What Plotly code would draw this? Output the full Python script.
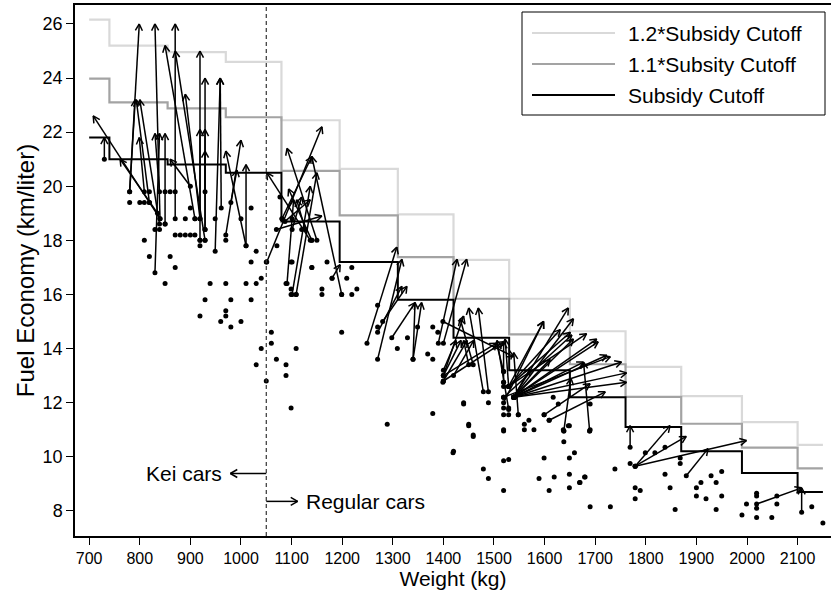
import math
import plotly.graph_objects as go

# ---------------- data ----------------
weight_breaks = [700, 740, 855, 970, 1080, 1195, 1310, 1420, 1530, 1650, 1760, 1870, 1990, 2100, 2150]
cutoff = [21.8, 21.0, 20.8, 20.5, 18.7, 17.2, 15.8, 14.4, 13.2, 12.2, 11.1, 10.2, 9.4, 8.7]
cutoff_11 = [23.98, 23.1, 22.88, 22.55, 20.57, 18.92, 17.38, 15.84, 14.52, 13.42, 12.21, 11.22, 10.34, 9.57]
cutoff_12 = [26.16, 25.2, 24.96, 24.6, 22.44, 20.64, 18.96, 17.28, 15.84, 14.64, 13.32, 12.24, 11.28, 10.44]

# arrows: start weight, start fuel economy, end weight, end fuel economy
arr_w0 = [730, 840, 835, 780, 840, 870, 909, 929, 919, 929, 949, 919, 780, 839, 809, 830, 839, 850, 919, 929,
          961, 929, 1010, 970, 1010, 980, 900, 819,
          1051, 1199, 1109, 1137, 1091, 1101, 1070, 1150, 1140, 1127, 1087, 1101, 1180, 1081,
          1249, 1270, 1270, 1280, 1298, 1340, 1340, 1390, 1400, 1479, 1489, 1400, 1400, 1400, 1400, 1420,
          1400, 1400, 1519, 1399, 1519, 1519, 1459, 1450,
          1529, 1529, 1529, 1529, 1529, 1539, 1539, 1539, 1539, 1539, 1539, 1539, 1539, 1539, 1539, 1539,
          1539, 1519, 1519, 1599, 1609, 1689, 1548, 1638, 1769, 1529,
          1779, 1779, 1779, 1880, 2108, 2019]
arr_f0 = [21.0, 18.8, 19.0, 19.8, 18.8, 18.8, 18.8, 18.0, 18.0, 18.4, 17.6, 18.8, 19.8, 18.6, 19.8, 16.8, 19.8, 18.6, 18.8, 18.4,
          19.2, 19.8, 17.8, 18.2, 17.8, 19.4, 20.0, 19.4,
          17.2, 16.0, 16.0, 18.0, 16.4, 16.0, 18.4, 18.0, 18.0, 18.4, 18.7, 18.4, 16.6, 18.8,
          14.2, 13.6, 14.6, 15.0, 14.4, 13.6, 13.6, 14.2, 14.2, 12.4, 12.4, 13.0, 13.2, 13.0, 12.8, 13.0,
          13.0, 12.8, 12.0, 15.0, 13.15, 12.75, 13.4, 13.4,
          12.6, 12.6, 12.6, 12.6, 12.6, 12.2, 12.2, 12.2, 12.2, 12.2, 12.2, 12.2, 12.2, 12.2, 12.2, 12.2,
          12.2, 12.2, 12.2, 11.55, 11.35, 10.95, 11.55, 10.95, 10.35, 11.75,
          9.65, 9.65, 9.65, 9.3, 7.95, 8.25]
arr_w1 = [730, 708, 761, 799, 830, 870, 850, 870, 919, 929, 959, 890, 791, 800, 799, 839, 830, 850, 919, 929,
          959, 929, 970, 1000, 1010, 992, 860, 793,
          1160, 1140, 1150, 1051, 1104, 1137, 1160, 1091, 1094, 1110, 1137, 1120, 1196, 1140,
          1308, 1318, 1318, 1328, 1344, 1344, 1357, 1427, 1446, 1450, 1469, 1440, 1425, 1435, 1447, 1460,
          1505, 1519, 1598, 1539, 1505, 1519, 1433, 1440,
          1598, 1631, 1651, 1683, 1522, 1647, 1657, 1657, 1703, 1706, 1677, 1723, 1752, 1762, 1762, 1611,
          1571, 1730, 1654, 1690, 1720, 1677, 1539, 1652, 1769, 1506,
          1848, 1880, 1999, 1923, 2108, 2108]
arr_f1 = [21.8, 22.6, 21.0, 26.0, 26.0, 26.0, 25.2, 25.0, 25.0, 24.0, 24.0, 23.4, 23.2, 23.2, 21.8, 21.95, 21.95, 21.95, 22.1, 22.1,
          24.0, 21.3, 21.3, 21.7, 20.8, 20.6, 21.0, 23.2,
          22.2, 21.1, 20.5, 20.5, 19.5, 20.0, 18.9, 21.4, 19.9, 19.5, 19.5, 19.6, 17.1, 21.1,
          17.75, 17.3, 16.3, 16.3, 15.7, 15.7, 15.7, 17.3, 17.3, 15.5, 15.5, 15.2, 14.3, 14.3, 14.3, 14.3,
          14.2, 14.25, 15.0, 13.7, 14.2, 14.25, 15.1, 14.3,
          15.0, 14.7, 14.6, 14.55, 14.35, 15.5, 15.1, 14.35, 14.35, 14.25, 13.5, 13.75, 13.5, 13.1, 12.75, 13.6,
          13.25, 13.7, 14.5, 12.7, 12.4, 13.5, 13.85, 12.9, 11.15, 14.3,
          11.15, 10.75, 10.6, 10.3, 8.85, 8.85]

# cars without an arrow (and extra plotted dots)
dot_w = [780, 800, 809, 819, 819, 850, 860, 870, 830, 839, 809, 819, 850, 860, 870, 850, 870, 880, 890, 900,
         909, 890, 900, 909, 919, 929, 919, 949, 939, 970, 970, 1000, 1010, 1020, 1020, 1030, 1030, 1040, 1050,
         929, 919, 960, 970, 970, 980, 980, 1000, 1020, 1040, 1030, 1050, 1060, 1060, 1070, 1089, 1089, 1109,
         1099, 1089, 1099, 1109, 1099, 1099, 1140, 1160, 1160, 1170, 1180, 1199, 1199, 1209, 1219, 1219, 1229,
         1077, 1081, 1101, 1071, 1120, 1140, 1101, 1140,
         1270, 1270, 1289, 1309, 1329, 1349, 1369, 1379, 1379, 1379, 1389, 1420, 1440, 1450, 1459, 1489, 1479,
         1489, 1519, 1519, 1519, 1519, 1519, 1519, 1529, 1529, 1548, 1519, 1529, 1519, 1560, 1560, 1569, 1579,
         1599, 1589, 1399, 1440, 1542,
         1450, 1459, 1519, 1599, 1609, 1638, 1649, 1689, 1638, 1419, 1649, 1659, 1519, 1609, 1619, 1649, 1649,
         1669, 1679, 1739, 1690, 1730, 1617, 1627, 1637, 1647, 1690,
         1690, 1769, 1680, 1670, 1799, 1818, 1838, 1779, 1789, 1779, 1838, 1848, 1858, 1868, 1868, 1900, 1900,
         1909, 1919, 1929, 1939, 1939, 1950, 1950, 1990, 1999, 2019, 2019, 2019, 2019, 2049, 2059, 2059, 2128, 2150]
dot_f = [19.4, 19.4, 19.4, 19.4, 19.8, 19.8, 19.8, 19.8, 18.4, 18.4, 18.0, 17.4, 16.4, 17.4, 17.0, 18.6, 18.2, 18.2, 18.2, 18.2,
         18.2, 18.8, 19.2, 18.8, 18.0, 18.0, 17.8, 18.8, 16.4, 18.0, 16.4, 18.8, 16.4, 19.2, 17.2, 17.6, 16.4, 16.6, 17.2,
         15.8, 15.2, 15.0, 15.2, 15.4, 15.8, 14.8, 15.0, 15.8, 14.0, 13.4, 12.8, 14.6, 14.2, 13.6, 13.4, 13.0, 14.0,
         11.8, 16.4, 16.0, 16.0, 16.2, 17.2, 17.0, 16.2, 16.0, 17.2, 16.6, 16.0, 14.6, 16.6, 17.0, 16.0, 16.2,
         19.6, 18.8, 18.8, 17.8, 18.4, 18.0, 17.2, 17.0,
         15.6, 14.8, 11.2, 14.0, 14.4, 14.8, 13.8, 14.8, 13.6, 11.6, 14.6, 10.2, 12.0, 11.2, 10.8, 12.0, 9.55,
         9.2, 13.15, 12.75, 12.6, 12.2, 11.8, 11.55, 11.8, 11.55, 11.55, 11.0, 9.9, 9.85, 11.2, 11.0, 11.35, 11.0,
         9.95, 9.2, 12.75, 11.95, 12.2,
         11.15, 10.75, 10.95, 11.55, 11.35, 10.95, 11.15, 10.95, 10.55, 10.15, 9.95, 10.15, 8.75, 8.75, 9.25, 9.35, 8.85,
         9.05, 9.25, 9.55, 8.15, 8.15, 12.2, 11.95, 11.0, 11.15, 11.95,
         11.0, 9.75, 9.25, 9.05, 10.15, 10.15, 10.35, 8.85, 8.75, 8.45, 9.35, 8.85, 8.05, 9.95, 9.75, 8.85, 8.55,
         9.05, 8.45, 9.3, 9.05, 8.05, 9.45, 8.55, 7.85, 8.25, 8.65, 8.55, 8.1, 7.75, 7.75, 8.55, 8.25, 8.15, 7.55]

x_ticks = [700, 800, 900, 1000, 1100, 1200, 1300, 1400, 1500, 1600, 1700, 1800, 1900, 2000, 2100]
y_ticks = [8, 10, 12, 14, 16, 18, 20, 22, 24, 26]
kei_line_w = 1050

# ---------------- layout geometry ----------------
W, H = 831, 594
ML, MR, MT, MB = 75, 0, 5, 58
XR = [672, 2166]
YR = [7.07, 26.7]
sx = (W - ML - MR) / (XR[1] - XR[0])   # px per kg
sy = (H - MT - MB) / (YR[1] - YR[0])   # px per km/l

FONT = "Liberation Sans, Arial, Helvetica, sans-serif"


def arrow_path(x0s, y0s, x1s, y1s, head=7.5, ang=28):
    xs, ys = [], []
    a = math.radians(ang)
    for x0, y0, x1, y1 in zip(x0s, y0s, x1s, y1s):
        dx = (x1 - x0) * sx
        dy = (y1 - y0) * sy
        th = math.atan2(dy, dx)
        xs += [x0, x1, None]
        ys += [y0, y1, None]
        for s in (1, -1):
            hx = x1 - head * math.cos(th + s * a) / sx
            hy = y1 - head * math.sin(th + s * a) / sy
            xs += [x1, hx, None]
            ys += [y1, hy, None]
    return xs, ys


def steps(breaks, vals):
    return breaks, vals + [vals[-1]]


fig = go.Figure()

for vals, col, w in [(cutoff_12, "#d9d9d9", 2.2), (cutoff_11, "#a3a3a3", 2.2), (cutoff, "#000000", 2.0)]:
    xs, ys = steps(weight_breaks, vals)
    fig.add_trace(go.Scatter(x=xs, y=ys, mode="lines", line=dict(color=col, width=w, shape="hv"),
                             hoverinfo="skip", showlegend=False))

ax, ay = arrow_path(arr_w0, arr_f0, arr_w1, arr_f1)
fig.add_trace(go.Scatter(x=ax, y=ay, mode="lines", line=dict(color="black", width=1.5),
                         hoverinfo="skip", showlegend=False))

fig.add_trace(go.Scatter(x=dot_w + arr_w0, y=dot_f + arr_f0, mode="markers",
                         marker=dict(color="black", size=5), hoverinfo="skip", showlegend=False))

# Kei / Regular annotation arrows
kx, ky = arrow_path([kei_line_w, kei_line_w], [9.38, 8.35], [979, 1112], [9.38, 8.35], head=8, ang=30)
fig.add_trace(go.Scatter(x=kx, y=ky, mode="lines", line=dict(color="black", width=1.5),
                         hoverinfo="skip", showlegend=False))

fig.add_shape(type="line", x0=kei_line_w, x1=kei_line_w, y0=0, y1=1, xref="x", yref="paper",
              line=dict(color="#333333", width=1.2, dash="4px,3px"))

fig.add_annotation(x=966, y=9.38, text="Kei cars", showarrow=False, xanchor="right", yanchor="middle",
                   font=dict(family=FONT, size=21, color="black"))
fig.add_annotation(x=1125, y=8.35, text="Regular cars", showarrow=False, xanchor="left", yanchor="middle",
                   font=dict(family=FONT, size=21, color="black"))

# manual legend (box, sample lines, labels)
def px2paper_x(px):
    return (px - ML) / (W - ML - MR)


def px2paper_y(py):
    return (H - MB - py) / (H - MT - MB)


fig.add_shape(type="rect", xref="paper", yref="paper", x0=px2paper_x(522), x1=px2paper_x(825),
              y0=px2paper_y(115), y1=px2paper_y(12), line=dict(color="black", width=1), fillcolor="white")
leg_items = [("1.2*Subsidy Cutoff", "#d9d9d9"), ("1.1*Subsity Cutoff", "#a3a3a3"), ("Subsidy Cutoff", "#000000")]
for i, (lab, col) in enumerate(leg_items):
    py = 33 + 31 * i
    fig.add_shape(type="line", xref="paper", yref="paper", x0=px2paper_x(532), x1=px2paper_x(615),
                  y0=px2paper_y(py), y1=px2paper_y(py), line=dict(color=col, width=2))
    fig.add_annotation(xref="paper", yref="paper", x=px2paper_x(626), y=px2paper_y(py), text=lab,
                       showarrow=False, xanchor="left", yanchor="middle",
                       font=dict(family=FONT, size=21, color="black"))

fig.update_layout(
    width=W, height=H,
    margin=dict(l=ML, r=MR, t=MT, b=MB),
    plot_bgcolor="white", paper_bgcolor="white",
    font=dict(family=FONT, color="black"),
    xaxis=dict(range=XR, tickvals=x_ticks, ticks="outside", ticklen=7, tickwidth=1, tickcolor="black",
               showline=True, linecolor="black", linewidth=1.5, mirror=True, showgrid=False, zeroline=False,
               tickfont=dict(size=16, color="black"),
               title=dict(text="Weight (kg)", font=dict(size=21, color="black"), standoff=2)),
    yaxis=dict(range=YR, tickvals=y_ticks, ticks="outside", ticklen=7, tickwidth=1, tickcolor="black",
               showline=True, linecolor="black", linewidth=1.5, showgrid=False, zeroline=False,
               tickfont=dict(size=18, color="black"),
               title=dict(text="Fuel Economy (km/liter)", font=dict(size=24, color="black"), standoff=1)),
)

fig.write_html("out.html")
